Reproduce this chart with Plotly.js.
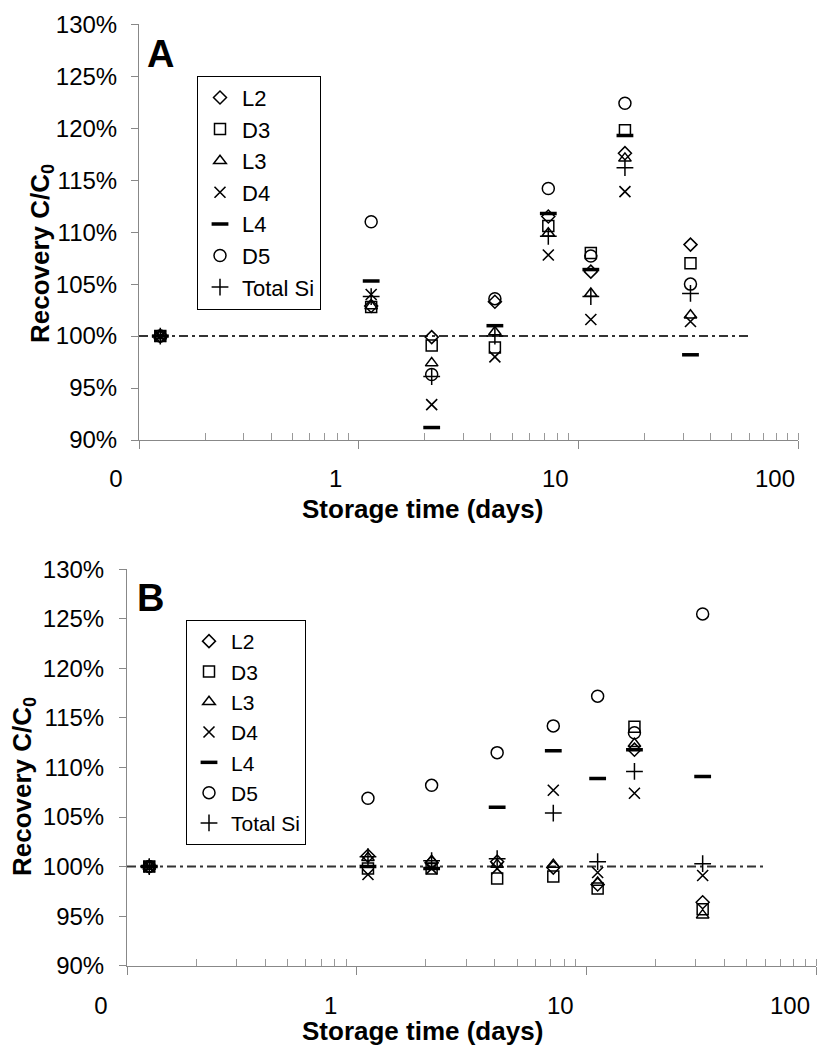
<!DOCTYPE html>
<html>
<head>
<meta charset="utf-8">
<script src="https://cdn.plot.ly/plotly-3.0.1.min.js"></script>
<style>html,body{margin:0;padding:0;background:#fff;}#chart{width:817px;height:1045px;}</style>
</head>
<body>
<div id="chart"></div>
<script>
// ---- data ----
const seriesNames = ["L2", "D3", "L3", "D4", "L4", "D5", "Total Si"];
const daysA = [0.125, 1.14, 2.15, 4.17, 7.3, 11.4, 16.3, 32.4];
const daysB = [0.125, 1.12, 2.12, 4.09, 7.18, 11.2, 16.2, 32.1];

const L2_A  = [100, 102.9, 99.9, 103.3, 111.5, 106.2, 117.6, 108.8];
const D3_A  = [100, 102.8, 99.1, 98.9, 110.6, 108.0, 119.8, 107.0];
const L3_A  = [100, 102.9, 97.4, 100.4, 109.9, 104.1, 117.1, 102.0];
const D4_A  = [100, 104.0, 93.4, 98.0, 107.8, 101.6, 113.9, 101.4];
const L4_A  = [100, 105.3, 91.2, 101.0, 111.8, 106.4, 119.3, 98.2];
const D5_A  = [100, 111.0, 96.3, 103.6, 114.2, 107.7, 122.4, 105.0];
const TSi_A = [100, 103.8, 96.1, 100.0, 109.6, 103.8, 116.2, 104.1];

const L2_B  = [100, 101.1, 100.4, 100.5, 99.9, 98.2, 111.8, 96.4];
const D3_B  = [100, 99.8, 99.8, 98.8, 99.0, 97.8, 114.1, 95.7];
const L3_B  = [100, 100.9, 100.6, 100.2, 100.2, 98.4, 112.4, 95.1];
const D4_B  = [100, 99.2, 99.8, 99.8, 107.7, 99.4, 107.4, 99.1];
const L4_B  = [100, 100.0, 99.8, 106.0, 111.7, 108.9, 111.8, 109.1];
const D5_B  = [100, 106.9, 108.2, 111.5, 114.2, 117.2, 113.5, 125.5];
const TSi_B = [100, 101.0, 100.6, 100.8, 105.4, 100.5, 109.6, 100.3];

const xTickVals = [0.1, 1, 10, 100];
const xTickText = ["0", "1", "10", "100"];
const refLevel = 100;
const refStart = 0.1;
const refEnd = 60;

// ---- styles ----
const FONT = "Arial, 'Liberation Sans', Helvetica, sans-serif";
const symbols = [
  {symbol: "diamond-open", size: 10, lw: 1.5},
  {symbol: "square-open", size: 11, lw: 1.5},
  {symbol: "triangle-up-open", size: 11, lw: 1.5},
  {symbol: "x-thin-open", size: 11, lw: 1.6},
  {symbol: "line-ew-open", size: 12, lw: 3.5},
  {symbol: "circle-open", size: 12, lw: 1.5},
  {symbol: "cross-thin-open", size: 12, lw: 1.5}
];
const dataA = [L2_A, D3_A, L3_A, D4_A, L4_A, D5_A, TSi_A];
const dataB = [L2_B, D3_B, L3_B, D4_B, L4_B, D5_B, TSi_B];

const traces = [];
function addPanel(days, vals, xa, ya, leg) {
  vals.forEach((v, i) => {
    const s = symbols[i];
    traces.push({
      type: "scatter", mode: "markers", name: seriesNames[i],
      x: days, y: v, xaxis: xa, yaxis: ya, legend: leg,
      marker: {symbol: s.symbol, size: s.size, color: "#000",
               line: {width: s.lw, color: "#000"}},
      hoverinfo: "x+y+name"
    });
  });
}
addPanel(daysA, dataA, "x", "y", "legend");
addPanel(daysB, dataB, "x2", "y2", "legend2");

const W = 817, H = 1045;
const minorVals = [0.2,0.3,0.4,0.5,0.6,0.7,0.8,0.9,2,3,4,5,6,7,8,9,20,30,40,50,60,70,80,90,100];

function xAxis(domain, anchor, shift, standoff) {
  return {
    type: "log", range: [-1, 2], domain: domain, anchor: anchor,
    tickmode: "array", tickvals: xTickVals, ticktext: xTickText,
    ticks: "outside", ticklen: 8, tickcolor: "#888", tickwidth: 1,
    showline: true, linecolor: "#888", linewidth: 1,
    showgrid: false, zeroline: false,
    tickfont: {family: FONT, size: 24, color: "#000"},
    ticklabelshift: shift, ticklabelstandoff: standoff,
    minor: {tickmode: "array", tickvals: minorVals, ticks: "inside",
            ticklen: 7, tickcolor: "#999", tickwidth: 1, showgrid: false}
  };
}
function yAxis(domain, anchor, standoff) {
  return {
    range: [90, 130], domain: domain, anchor: anchor,
    tick0: 90, dtick: 5, ticksuffix: "%",
    ticks: "outside", ticklen: 7, tickcolor: "#888", tickwidth: 1,
    showline: true, linecolor: "#888", linewidth: 1,
    showgrid: false, zeroline: false,
    tickfont: {family: FONT, size: 24, color: "#000"},
    ticklabelstandoff: standoff
  };
}

const legendBase = {
  xanchor: "left", yanchor: "top",
  bordercolor: "#000", borderwidth: 1, bgcolor: "#fff",
  tracegroupgap: 0, itemclick: false, itemdoubleclick: false,
  itemwidth: 34, entrywidthmode: "pixels"
};

const layout = {
  width: W, height: H,
  margin: {l: 0, r: 0, t: 0, b: 0},
  paper_bgcolor: "#fff", plot_bgcolor: "#fff",
  showlegend: true,
  xaxis: xAxis([139/W, 798/W], "y", -23, 9),
  yaxis: yAxis([1 - 440/H, 1 - 24.3/H], "x", 9),
  xaxis2: xAxis([127/W, 816/W], "y2", -26, 10),
  yaxis2: yAxis([1 - 965.7/H, 1 - 569.3/H], "x2", 10),
  legend: Object.assign({}, legendBase, {x: 197/W, y: 1 - 75.7/H, entrywidth: 95,
           font: {family: FONT, size: 22, color: "#000"}}),
  legend2: Object.assign({}, legendBase, {x: 186/W, y: 1 - 620/H, entrywidth: 108,
           font: {family: FONT, size: 21, color: "#000"}}),
  shapes: [
    {type: "line", xref: "x", yref: "y", x0: refStart, x1: refEnd, y0: refLevel, y1: refLevel,
     line: {color: "#333", width: 2, dash: "9px,4px,3px,4px"}, layer: "below"},
    {type: "line", xref: "x2", yref: "y2", x0: refStart, x1: refEnd, y0: refLevel, y1: refLevel,
     line: {color: "#333", width: 2, dash: "9px,4px,3px,4px"}, layer: "below"}
  ],
  annotations: [
    {text: "<b>A</b>", xref: "paper", yref: "paper", x: 160/W, y: 1 - 54/H,
     xanchor: "center", yanchor: "middle", showarrow: false,
     font: {family: FONT, size: 38, color: "#000"}},
    {text: "<b>B</b>", xref: "paper", yref: "paper", x: 150/W, y: 1 - 598/H,
     xanchor: "center", yanchor: "middle", showarrow: false,
     font: {family: FONT, size: 38, color: "#000"}},
    {text: "<b>Storage time (days)</b>", xref: "paper", yref: "paper", x: 422/W, y: 1 - 509/H,
     xanchor: "center", yanchor: "middle", showarrow: false,
     font: {family: FONT, size: 26, color: "#000"}},
    {text: "<b>Storage time (days)</b>", xref: "paper", yref: "paper", x: 422/W, y: 1 - 1031/H,
     xanchor: "center", yanchor: "middle", showarrow: false,
     font: {family: FONT, size: 26, color: "#000"}},
    {text: "<b>Recovery C/C<sub>0</sub></b>", xref: "paper", yref: "paper", x: 41/W, y: 1 - 254/H,
     xanchor: "center", yanchor: "middle", showarrow: false, textangle: -90,
     font: {family: FONT, size: 26, color: "#000"}},
    {text: "<b>Recovery C/C<sub>0</sub></b>", xref: "paper", yref: "paper", x: 23/W, y: 1 - 787/H,
     xanchor: "center", yanchor: "middle", showarrow: false, textangle: -90,
     font: {family: FONT, size: 26, color: "#000"}}
  ]
};

Plotly.newPlot("chart", traces, layout, {staticPlot: true, displayModeBar: false});
</script>
</body>
</html>
